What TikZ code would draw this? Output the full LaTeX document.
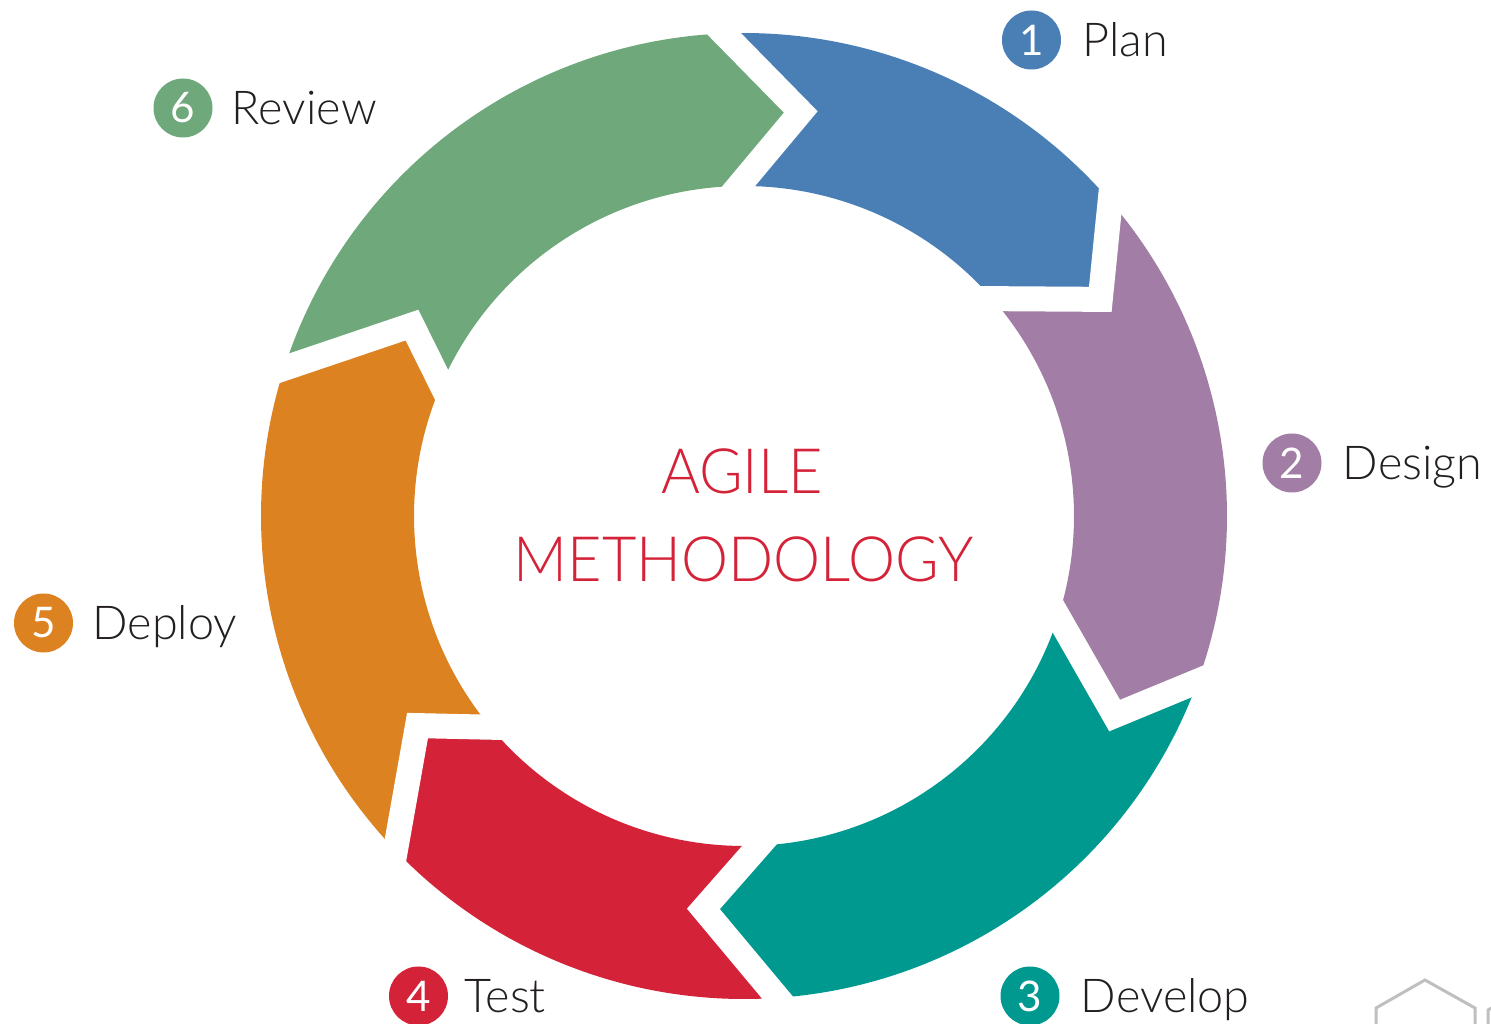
\documentclass[tikz,border=0pt]{standalone}
\usepackage{fontspec}
\setmainfont{Lato Light}
\newfontfamily\digitfont{Lato}
\usetikzlibrary{positioning,calc}

\definecolor{planblue}{RGB}{74,127,181}
\definecolor{designpurple}{RGB}{162,125,165}
\definecolor{developteal}{RGB}{0,153,144}
\definecolor{testred}{RGB}{212,35,56}
\definecolor{deployorange}{RGB}{221,130,32}
\definecolor{reviewgreen}{RGB}{111,169,123}
\definecolor{labelgray}{RGB}{35,31,32}

\begin{document}
\begin{tikzpicture}[
	numdot/.style={circle, minimum size=0.59cm, inner sep=0pt, text=white, font=\digitfont\fontsize{12}{14}\selectfont},
	steptext/.style={inner sep=0pt, text height=9.5pt, text depth=0pt, text=labelgray, font=\fontsize{13.3}{15}\selectfont},
	gapline/.style={white, line width=0.25cm, line join=miter},
	title/.style={text=testred, inner sep=0pt, xscale=0.95, font=\fontsize{17.8}{22}\selectfont}
	]
	
	\useasboundingbox (0,0) rectangle (14.91,10.24);
	
	% ring of six arrows
	\begin{scope}[shift={(7.44,5.08)}]
	\foreach \k/\ao/\ai/\at/\rt in {1/92.4/90.9/82.0/4.08, 2/40.7/41.2/31.3/4.17, 3/-20.0/-17.8/-28.3/4.21, 4/-86.0/-87.4/-95.9/3.95, 5/223.8/219.8/212.7/3.88, 6/162.2/156.5/150.1/3.83}{
		\coordinate (o\k) at (\ao:4.83);
		\coordinate (i\k) at (\ai:3.30);
		\coordinate (t\k) at (\at:\rt);
	}
	\foreach \col/\k/\n/\oa/\ob/\ia/\ib in {planblue/1/2/92.4/40.7/41.2/90.9, designpurple/2/3/40.7/-20.0/-17.8/41.2, developteal/3/4/-20.0/-86.0/-87.4/-17.8, testred/4/5/-86.0/-136.2/-140.2/-87.4, deployorange/5/6/223.8/162.2/156.5/219.8, reviewgreen/6/1/162.2/92.4/90.9/156.5}
		\fill[\col] (o\k) arc[start angle=\oa, end angle=\ob, radius=4.83] -- (t\n) -- (i\n) arc[start angle=\ia, end angle=\ib, radius=3.30] -- (t\k) -- cycle;
	\foreach \k in {1,...,6}
		\draw[gapline] ($(t\k)!1.5!(o\k)$) -- (t\k) -- ($(t\k)!1.5!(i\k)$);
	\end{scope}
	
	\node[title, anchor=base] (agile) at (7.42,5.30) {AGILE};
	\node[title, anchor=base] (method) at (7.435,4.42) {METHODOLOGY};
	
	\node[numdot, fill=planblue] (n1) at (10.315,9.84) {1};
	\node[steptext, right=0.2 of n1] (s1) {Plan};
	\node[numdot, fill=designpurple] (n2) at (12.92,5.61) {2};
	\node[steptext, right=0.2 of n2] (s2) {Design};
	\node[numdot, fill=developteal] (n3) at (10.30,0.28) {3};
	\node[steptext, right=0.2 of n3] (s3) {Develop};
	\node[numdot, fill=testred] (n4) at (4.185,0.28) {4};
	\node[steptext, right=0.15 of n4] (s4) {Test};
	\node[numdot, fill=deployorange] (n5) at (0.435,4.01) {5};
	\node[steptext, right=0.18 of n5] (s5) {Deploy};
	\node[numdot, fill=reviewgreen] (n6) at (1.83,9.16) {6};
	\node[steptext, right=0.18 of n6] (s6) {Review};
	
	\draw[gray!50, line width=0.03cm] (13.76,0) -- (13.76,0.16) -- (14.25,0.44) -- (14.75,0.16) -- (14.75,0);
	\draw[gray!50, line width=0.03cm] (14.88,0) -- (14.88,0.14) -- (14.95,0.18);
	
\end{tikzpicture}
\end{document}
